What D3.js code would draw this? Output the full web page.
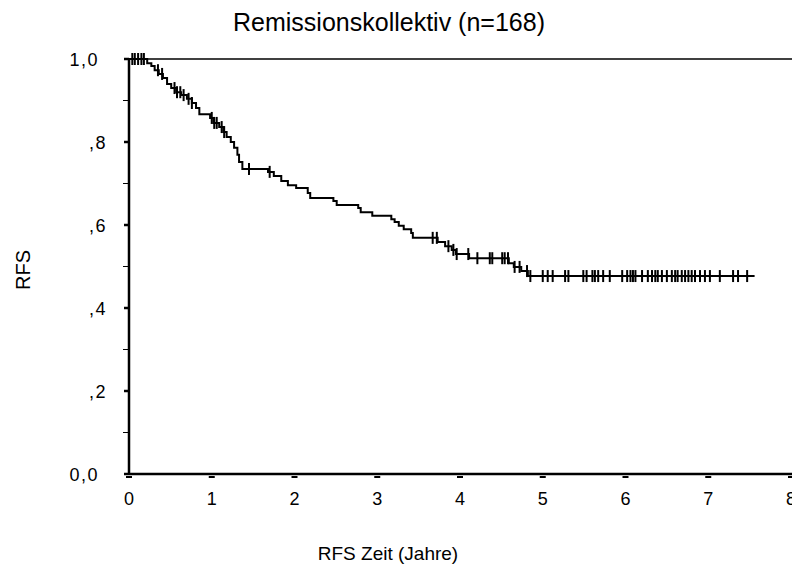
<!DOCTYPE html>
<html>
<head>
<meta charset="utf-8">
<script src="https://cdn.jsdelivr.net/npm/d3@7/dist/d3.min.js"></script>
<style>
  body { margin: 0; background: #fff; }
  text { font-family: Arial, "Liberation Sans", sans-serif; fill: #000; }
</style>
</head>
<body>
<script>
// event times (years) and survival after each event
var eventTimes = [0.22, 0.27, 0.31, 0.36, 0.41, 0.46, 0.51, 0.57, 0.63, 0.70, 0.76, 0.81, 0.85,
  0.98, 1.02, 1.09, 1.14, 1.18, 1.23, 1.27, 1.31, 1.33, 1.37, 1.68, 1.75, 1.84, 1.92, 2.02,
  2.16, 2.19, 2.47, 2.51, 2.77, 2.80, 2.94, 3.17, 3.21, 3.26, 3.32, 3.41, 3.43, 3.73, 3.82,
  3.90, 3.95, 4.11, 4.59, 4.65, 4.74, 4.82];
var survival = [0.990, 0.983, 0.973, 0.964, 0.954, 0.940, 0.930, 0.920, 0.913, 0.904, 0.894, 0.882, 0.867,
  0.858, 0.846, 0.836, 0.824, 0.812, 0.800, 0.786, 0.769, 0.752, 0.735, 0.728, 0.718, 0.706, 0.696, 0.689,
  0.677, 0.665, 0.658, 0.648, 0.641, 0.631, 0.622, 0.614, 0.607, 0.598, 0.590, 0.581, 0.569, 0.559, 0.549,
  0.540, 0.530, 0.520, 0.508, 0.499, 0.489, 0.477];
// censored observations
var censored = [0.04, 0.07, 0.11, 0.15, 0.18, 0.35, 0.40, 0.55, 0.58, 0.62, 0.66, 0.72, 0.76,
  1.00, 1.03, 1.06, 1.12, 1.15, 1.45, 1.70, 3.67, 3.72, 3.86, 3.92, 3.96, 4.10, 4.21, 4.36, 4.39,
  4.51, 4.54, 4.58, 4.66, 4.72, 4.81, 4.85, 5.00, 5.06, 5.12, 5.27, 5.31, 5.49, 5.53, 5.60, 5.63,
  5.67, 5.73, 5.81, 5.96, 6.02, 6.06, 6.09, 6.12, 6.20, 6.27, 6.32, 6.36, 6.39, 6.44, 6.50, 6.56,
  6.60, 6.63, 6.68, 6.72, 6.76, 6.80, 6.84, 6.90, 6.96, 7.02, 7.14, 7.30, 7.36, 7.47];
var lastTime = 7.56;
var xTicks = [0, 1, 2, 3, 4, 5, 6, 7, 8];
var yTicks = [0, 0.2, 0.4, 0.6, 0.8, 1.0];
var yTickLabels = ["0,0", ",2", ",4", ",6", ",8", "1,0"];
var yMinorTicks = [0.1, 0.3, 0.5, 0.7, 0.9];

var W = 792, H = 568;
var x = d3.scaleLinear().domain([0, 8]).range([129, 791]);
var y = d3.scaleLinear().domain([0, 1]).range([474, 59]);

var svg = d3.select("body").append("svg").attr("width", W).attr("height", H);

// frame
svg.append("line").attr("x1", x(0)).attr("x2", W).attr("y1", y(1)).attr("y2", y(1))
  .attr("stroke", "#000").attr("stroke-width", 1.5);
svg.append("line").attr("x1", x(0)).attr("x2", W).attr("y1", y(0)).attr("y2", y(0))
  .attr("stroke", "#000").attr("stroke-width", 2.5);
svg.append("line").attr("x1", x(0)).attr("x2", x(0)).attr("y1", y(1) - 1).attr("y2", y(0) + 1)
  .attr("stroke", "#000").attr("stroke-width", 2.5);

// y ticks
svg.selectAll("line.ymaj").data(yTicks).enter().append("line").attr("class", "ymaj")
  .attr("x1", x(0) - 5).attr("x2", x(0)).attr("y1", function (d) { return y(d); })
  .attr("y2", function (d) { return y(d); }).attr("stroke", "#000").attr("stroke-width", 2.5);
svg.selectAll("line.ymin").data(yMinorTicks).enter().append("line").attr("class", "ymin")
  .attr("x1", x(0) - 6).attr("x2", x(0)).attr("y1", function (d) { return y(d); })
  .attr("y2", function (d) { return y(d); }).attr("stroke", "#000").attr("stroke-width", 1);
svg.selectAll("text.ylab").data(yTicks).enter().append("text").attr("class", "ylab")
  .attr("x", function (d, i) { return yTickLabels[i].charAt(0) === "," ? 107 : 99; })
  .attr("y", function (d) { return y(d) + 7; })
  .attr("text-anchor", "end").attr("font-size", 18).attr("letter-spacing", 1.5)
  .text(function (d, i) { return yTickLabels[i]; });

// x ticks
svg.selectAll("line.xt").data(xTicks).enter().append("line").attr("class", "xt")
  .attr("x1", function (d) { return x(d) - 3; }).attr("x2", function (d) { return x(d) + 3; })
  .attr("y1", y(0) + 3).attr("y2", y(0) + 3).attr("stroke", "#000").attr("stroke-width", 2);
svg.selectAll("text.xlab").data(xTicks).enter().append("text").attr("class", "xlab")
  .attr("x", function (d) { return x(d); }).attr("y", 505)
  .attr("text-anchor", "middle").attr("font-size", 18)
  .text(function (d) { return d; });

// survival curve
var pts = [[0, 1]];
eventTimes.forEach(function (t, i) { pts.push([t, survival[i]]); });
pts.push([lastTime, survival[survival.length - 1]]);
var line = d3.line().x(function (d) { return x(d[0]); }).y(function (d) { return y(d[1]); })
  .curve(d3.curveStepAfter);
svg.append("path").datum(pts).attr("d", line).attr("fill", "none")
  .attr("stroke", "#000").attr("stroke-width", 2);

function survAt(t) {
  var s = 1;
  for (var i = 0; i < eventTimes.length; i++) { if (eventTimes[i] <= t) s = survival[i]; }
  return s;
}
svg.selectAll("line.cens").data(censored).enter().append("line").attr("class", "cens")
  .attr("x1", function (d) { return x(d); }).attr("x2", function (d) { return x(d); })
  .attr("y1", function (d) { return y(survAt(d)) - 6; })
  .attr("y2", function (d) { return y(survAt(d)) + 6; })
  .attr("stroke", "#000").attr("stroke-width", 2);

// titles
svg.append("text").attr("x", 389).attr("y", 31).attr("text-anchor", "middle")
  .attr("font-size", 25).text("Remissionskollektiv (n=168)");
svg.append("text").attr("x", 388).attr("y", 560).attr("text-anchor", "middle")
  .attr("font-size", 19).text("RFS Zeit (Jahre)");
svg.append("text").attr("transform", "translate(30,270) rotate(-90)").attr("text-anchor", "middle")
  .attr("font-size", 20).text("RFS");
</script>
</body>
</html>
